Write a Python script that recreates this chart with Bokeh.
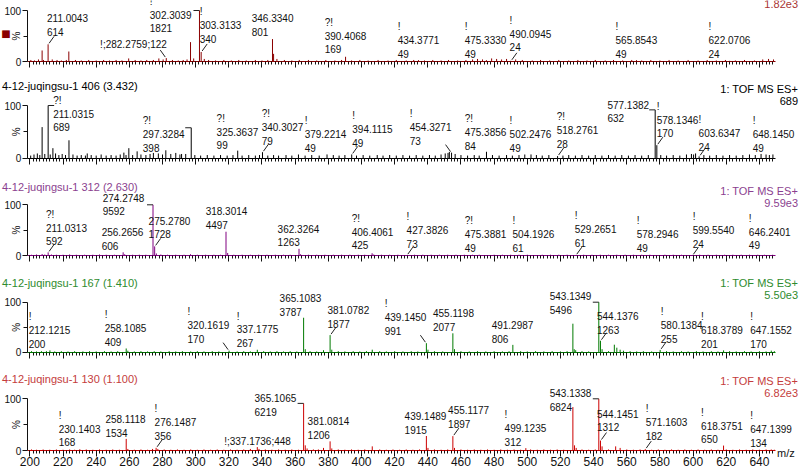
import math
from bokeh.plotting import figure
from bokeh.layouts import column
from bokeh.models import (Range1d, FixedTicker, SingleIntervalTicker, Label,
                          LabelSet, ColumnDataSource)
from bokeh.core.properties import value
from bokeh.embed import file_html
from bokeh.resources import INLINE

# ---------------------------------------------------------------- data
X_START, X_END = 198.4, 649.7
SCAN = "1: TOF MS ES+"
TITLES = [None, "4-12-juqingsu-1 406 (3.432)", "4-12-juqingsu-1 312 (2.630)",
          "4-12-juqingsu-1 167 (1.410)", "4-12-juqingsu-1 130 (1.100)"]
BPI_TEXT = ["1.82e3", "689", "9.59e3", "5.50e3", "6.82e3"]
BASE = [1821, 689, 9592, 5496, 6824]

# panel 1 (top, cut)
P1_MZ = [211.0043, 282.2759, 302.3039, 303.3133, 346.3340, 390.4068, 434.3771,
         475.3330, 490.0945, 565.8543, 622.0706]
P1_COUNT = [614, 122, 1821, 340, 801, 169, 49, 49, 24, 49, 24]
P1_FLAG = ["", "!;", "!", "!", "", "?!", "!", "!", "!", "!", "!"]
P1_OTHER = [(207.4, 21.6), (223.5, 19.6), (296.9, 38), (347.0, 15)]
P1_NOISE = [(200.6,3),(202.8,2),(205.2,4),(208.2,3),(213.5,4),(216.4,3),(219.0,2),(222.0,3),
            (227.5,3),(231.0,2),(235.5,3),(240.0,2),(244.5,3),(248.0,2),(252.0,3),(255.5,2),
            (259.6,6),(263.5,3),(267.0,2),(270.5,3),(274.5,3),(277.8,6),(280.4,4),(286.0,3),
            (289.5,2),(292.5,3),(294.8,4),(298.8,6),(305.2,5),(307.8,3),(312.0,2),(317.0,3),
            (321.5,2),(326.0,3),(330.5,2),(336.0,3),(340.0,2),(343.5,3),(349.0,5),(353.5,3),
            (358.0,2),(362.5,3),(368.0,3),(373.0,2),(378.5,3),(384.0,2),(388.0,3),(394.0,2),
            (399.0,3),(404.0,2),(410.0,3),(416.0,2),(421.0,3),(427.0,2),(431.5,3),(438.0,2),
            (443.0,3),(448.0,2),(452.5,3),(458.0,2),(463.0,3),(467.0,4),(470.0,5),(473.0,4),
            (478.5,6),(481.5,5),(484.5,4),(487.5,5),(493.0,4),(497.0,3),(503.0,2),(508.0,3),
            (513.5,2),(519.0,3),(525.0,2),(530.5,3),(536.0,2),(541.0,3),(547.0,2),(552.0,3),
            (557.5,2),(563.0,3),(569.0,2),(574.5,3),(580.0,2),(585.5,3),(591.0,2),(597.0,3),
            (603.0,2),(608.5,3),(614.0,2),(619.5,3),(625.5,2),(631.0,3),(637.0,2),(642.0,4),
            (645.5,5),(648.5,4)]

# panel 2 (black)
P2_MZ = [211.0315, 297.3284, 325.3637, 340.3027, 379.2214, 394.1115, 454.3271,
         475.3856, 502.2476, 518.2761, 577.1382, 578.1346, 603.6347, 648.1450]
P2_COUNT = [689, 398, 99, 79, 49, 49, 73, 84, 49, 28, 632, 170, 24, 49]
P2_FLAG = ["?!", "?!", "?!", "?!", "!", "!", "!", "?!", "!", "?!", "", "!", "!", "!"]
P2_OTHER = [(207.4, 59), (213.9, 19), (223.6, 34), (234.6, 9), (256.7, 10.6), (259.7, 19),
            (264.7, 13), (274.5, 10), (282.0, 15), (288.0, 10), (291.5, 8), (294.0, 8),
            (453.0, 12), (600.3, 7)]
P2_NOISE = [(200.5,5),(202.5,7),(204.5,9),(206.0,6),(209.0,8),(212.3,7),(215.5,9),(217.5,6),
            (219.5,8),(221.5,6),(226.0,7),(228.5,5),(231.0,6),(233.5,5),(237.0,6),(240.0,5),
            (243.0,7),(246.0,5),(249.0,6),(252.0,5),(254.5,7),(258.0,6),(262.0,6),(267.0,7),
            (270.0,6),(272.5,8),(277.5,9),(280.0,7),(285.0,8),(290.5,7),(299.5,6),(303.0,5),
            (307.0,6),(311.0,5),(315.0,6),(319.0,5),(322.5,6),(328.0,5),(332.0,6),(336.0,5),
            (338.5,6),(343.5,5),(347.0,6),(350.0,5),(354.5,6),(358.0,5),(362.0,7),(366.0,5),
            (370.0,6),(374.5,5),(383.0,6),(386.5,5),(390.0,6),(397.0,5),(401.0,6),(405.0,5),
            (409.5,6),(413.0,5),(417.0,6),(421.0,5),(425.0,6),(429.0,5),(433.0,6),(437.0,5),
            (441.0,6),(444.5,5),(448.0,7),(450.5,9),(452.2,10),(456.5,8),(460.0,6),(464.0,5),
            (468.0,6),(471.0,5),(479.0,6),(483.0,5),(487.5,6),(491.0,5),(495.0,6),(498.5,7),
            (505.5,6),(509.0,5),(513.0,6),(521.5,5),(525.0,6),(529.0,5),(533.0,6),(537.0,5),
            (541.0,6),(545.0,5),(549.0,6),(553.0,5),(557.0,6),(561.0,5),(565.0,6),(569.0,5),
            (573.0,6),(580.5,6),(584.0,5),(588.0,6),(592.0,5),(596.0,7),(599.0,8),(601.5,9),
            (606.5,6),(610.0,5),(614.0,6),(618.0,5),(622.0,6),(626.0,5),(630.0,6),(634.0,7),
            (637.5,6),(641.0,8),(644.0,7),(646.0,6)]

# panel 3 (purple)
P3_MZ = [211.0313, 256.2656, 274.2748, 275.2780, 318.3014, 362.3264, 406.4061,
         427.3826, 475.3881, 504.1926, 529.2651, 578.2946, 599.5540, 646.2401]
P3_COUNT = [592, 606, 9592, 1728, 4497, 1263, 425, 73, 49, 61, 61, 49, 24, 49]
P3_FLAG = ["?!", "", "", "", "", "", "?!", "!", "?!", "!", "!", "!", "!", "!"]
P3_OTHER = [(207.4, 3), (276.3, 4), (319.3, 5)]
P3_NOISE = [(201,1.5),(204,2),(209,2),(213,2),(216,1.5),(220,1.5),(224,2),(228,1.5),(233,1.5),
            (238,1.5),(242,2),(246,1.5),(251,1.5),(257.2,2.5),(262,1.5),(266,1.5),(270,1.5),
            (279,2),(283,1.5),(288,1.5),(293,1.5),(296.9,2.5),(301,1.5),(306,1.5),(311,1.5),
            (315,1.5),(323,1.5),(328,1.5),(333,1.5),(338,1.5),(343,1.5),(348,1.5),(353,1.5),
            (357,1.5),(363.3,2.5),(368,1.5),(373,1.5),(378,1.5),(383,1.5),(388,1.5),(393,1.5),
            (398,1.5),(402,1.5),(407.4,2),(412,1.5),(417,1.5),(422,1.5),(432,1.5),(437,1.5),
            (442,1.5),(447,1.5),(452,1.5),(457,1.5),(462,1.5),(467,1.5),(471,1.5),(480,1.5),
            (485,1.5),(490,1.5),(495,1.5),(500,1.5),(509,1.5),(514,1.5),(519,1.5),(524,1.5),
            (534,1.5),(539,1.5),(544,1.5),(549,1.5),(554,1.5),(559,1.5),(564,1.5),(569,1.5),
            (574,1.5),(583,1.5),(588,1.5),(593,1.5),(604,1.5),(609,1.5),(614,1.5),(619,1.5),
            (624,1.5),(629,1.5),(634,1.5),(639,1.5),(643,1.5),(648,1.5)]

# panel 4 (green)
P4_MZ = [212.1215, 258.1085, 320.1619, 337.1775, 365.1083, 381.0782, 439.1450,
         455.1198, 491.2987, 543.1349, 544.1376, 580.1384, 618.3789, 647.1552]
P4_COUNT = [200, 409, 170, 267, 3787, 1877, 991, 2077, 806, 5496, 1263, 255, 201, 170]
P4_FLAG = ["!", "!", "!", "!", "", "", "!", "", "", "", "", "!", "!", "!"]
P4_OTHER = [(527.5, 57), (552.5, 15), (554.0, 9)]
P4_NOISE = [(201,2),(204,1.5),(207,2),(210,2),(215,1.5),(219,2),(223,1.5),(227,2),(232,1.5),
            (236,2),(240,1.5),(245,2),(249,1.5),(253,2),(259.1,3),(263,1.5),(267,2),(271,1.5),
            (275,2),(279,1.5),(284,2),(288,1.5),(292,2),(297,1.5),(301,2),(305,1.5),(310,2),
            (314,1.5),(325,1.5),(329,2),(333,1.5),(341,2),(345,1.5),(349,2),(353,1.5),(357,2),
            (361,1.5),(366.1,6),(369,2),(373,1.5),(377.1,4),(382.1,5),(386,2),(390,1.5),(395,2),
            (399,1.5),(403,2),(406.5,5),(411,2),(415,1.5),(420,2),(425,1.5),(430,2),(434,1.5),
            (440.1,5),(444,2),(449,1.5),(456.1,6),(460,2),(465,1.5),(470,2),(475,1.5),(480,2),
            (485,1.5),(489,2),(496,2),(500,1.5),(505,2),(510,1.5),(515,2),(520,1.5),(524,2),
            (528.3,6),(529.2,4),(533,2),(537,1.5),(545.1,6),(549,2),(556,5),(558,3),(562,2),
            (566,1.5),(570,2),(575,1.5),(584,2),(588,1.5),(593,2),(597,1.5),(602,2),(606,1.5),
            (611,2),(615,1.5),(622,2),(626,1.5),(631,2),(635,1.5),(640,2),(644,1.5),(649,2)]

# panel 5 (red)
P5_MZ = [230.1403, 258.1118, 276.1487, 337.1736, 365.1065, 381.0814, 439.1489,
         455.1177, 499.1235, 543.1338, 544.1451, 571.1603, 618.3751, 647.1399]
P5_COUNT = [168, 1534, 356, 448, 6219, 1206, 1915, 1897, 312, 6824, 1312, 182, 650, 134]
P5_FLAG = ["!", "", "!", "!;", "", "", "", "", "!", "", "", "!", "!", "!"]
P5_OTHER = [(527.5, 84)]
P5_NOISE = [(201,2),(204,1.5),(208,2),(212,1.5),(216,2),(220,1.5),(224,2),(227,1.5),(234,2),
            (238,1.5),(242,2),(246,1.5),(250,2),(254,1.5),(259.1,3),(263,1.5),(267,2),(271,1.5),
            (274,3),(277.2,3),(281,2),(285,1.5),(289,2),(293,1.5),(297,2),(301,1.5),(305,2),
            (309,1.5),(313,2),(317,1.5),(321,2),(325,1.5),(329,2),(333,3),(338.2,3),(342,2),
            (346,1.5),(350,2),(354,1.5),(358,2),(362,1.5),(366.1,10),(367.2,4),(371,2),(374,2),
            (377.1,5),(382.1,4),(386,2),(390,1.5),(394,2),(398,1.5),(402,2),(406.5,8),(411,2),
            (415,1.5),(419,2),(423,1.5),(427,2),(431,1.5),(435,2),(440.1,5),(444,2),(448,1.5),
            (452,2),(456.1,5),(460,2),(464,1.5),(468,2),(472,1.5),(476,2),(480,1.5),(484,2),
            (488,1.5),(492,2),(496,1.5),(502,2),(506,1.5),(510,2),(514,1.5),(518,2),(522,1.5),
            (528.5,10),(529.5,5),(533,2),(537,1.5),(541,2),(545.1,8),(549,2),(553.3,8),(556,5),
            (560,2),(564,1.5),(568,2),(575,1.5),(579,2),(583,1.5),(587,2),(591,1.5),(595,2),
            (599,1.5),(603,2),(607,1.5),(611,2),(615,1.5),(620,2),(624,1.5),(628,2),(632,1.5),
            (636,2),(640,1.5),(644,2),(649,1.5)]

# ---------------------------------------------------------------- layout
# label centre (m/z units), label bottom (% units), leader kind: s = slash, b = bracket
P1_LX = [222.7, 262.5, 284.9, 315.0, 346.4, 390.4, 434.4, 474.8, 501.9, 565.8, 621.9]
P1_LY = [47, 21.6, 53, 33, 47, 11.8, 3.9, 3.9, 15.7, 3.9, 3.9]
P1_LEAD = ["s", "s", "b", "s", "", "", "", "", "s", "", ""]
P2_LX = [226.4, 280.7, 325.2, 352.4, 378.3, 406.6, 441.7, 474.8, 501.9, 530.3, 560.9, 590.6, 615.9, 648.5]
P2_LY = [46.9, 8.9, 13, 22.2, 8.9, 18.4, 22.2, 12.5, 8.9, 16.5, 64, 35.5, 10.8, 8.9]
P2_LEAD = ["b", "b", "", "s", "", "s", "s", "", "", "s", "b", "s", "s", ""]
P3_LX = [222.1, 255.9, 256.5, 284.2, 318.6, 362.0, 406.7, 439.8, 474.8, 503.7, 541.2, 578.6, 612.3, 646.2]
P3_LY = [15.8, 7, 75, 29.6, 48, 14, 7.9, 11.8, 3.9, 3.9, 13.8, 3.9, 11.8, 7.9]
P3_LEAD = ["s", "", "b", "s", "", "", "", "s", "", "", "s", "", "s", ""]
P4_LX = [211.9, 257.7, 307.7, 337.3, 363.2, 392.1, 426.6, 455.5, 491.1, 526.1, 554.6, 593.1, 617.4, 647.0]
P4_LY = [5, 8.5, 15.4, 6, 69.4, 45.4, 31.4, 39, 15.4, 73.4, 33.4, 15.4, 5, 5]
P4_LEAD = ["", "", "s", "", "", "s", "s", "", "", "b", "s", "s", "", ""]
P5_LX = [230.0, 257.7, 287.8, 337.3, 348.1, 380.1, 438.6, 464.6, 498.9, 526.1, 554.6, 584.0, 617.4, 647.0]
P5_LY = [3.9, 23.2, 17.4, 7.5, 63.8, 19, 29, 40.6, 5.5, 73.5, 32.9, 17.4, 10, 3.5]
P5_LEAD = ["", "", "s", "", "b", "", "", "s", "", "b", "s", "s", "", ""]

PEAK_COLORS = ["#8B0000", "#000000", "#800080", "#007A00", "#CC0000"]
TEXT_COLORS = ["#A83232", "#000000", "#8B3F8F", "#2E8B2E", "#C43C3C"]
FIG_H = [71, 97, 97, 97, 106]
HUNDRED_AT = [10, 34, 36.3, 36.7, 36.3]   # px from figure top to the 100 % line
ZERO_AT = [61, 86.7, 87, 86.7, 88]       # px from figure top to the 0 % line
TITLE_OFF = [0, 20, 18.3, 19.7, 20.3]     # px above the 100 % line
SCAN_OFF = [7, 16.7, 14.3, 19.4, 18.3]
W = 800
BL, BR = 26.7, 25.0                      # px left of m/z start, right of m/z end
PX_PER_MZ = (W - BL - BR) / (X_END - X_START)
MZ_PX = 1.0 / PX_PER_MZ
X_LO = X_START - BL * MZ_PX
X_HI = X_END + BR * MZ_PX
FONT = "Liberation Sans"

PANELS = [
    (P1_MZ, P1_COUNT, P1_FLAG, P1_OTHER, P1_NOISE, P1_LX, P1_LY, P1_LEAD),
    (P2_MZ, P2_COUNT, P2_FLAG, P2_OTHER, P2_NOISE, P2_LX, P2_LY, P2_LEAD),
    (P3_MZ, P3_COUNT, P3_FLAG, P3_OTHER, P3_NOISE, P3_LX, P3_LY, P3_LEAD),
    (P4_MZ, P4_COUNT, P4_FLAG, P4_OTHER, P4_NOISE, P4_LX, P4_LY, P4_LEAD),
    (P5_MZ, P5_COUNT, P5_FLAG, P5_OTHER, P5_NOISE, P5_LX, P5_LY, P5_LEAD),
]


def label_text(m, c, f):
    if f == "!;":
        return f"!;{m:.4f};{c}"
    s = f"{m:.4f}\n{c}"
    return f"{f}\n{s}" if f else s


def xloc(px):
    """x position (data) of a pixel column measured from the canvas left."""
    return X_LO + px * MZ_PX


def text_label(x, y, txt, align="left", size="11px", color="#111111", font=FONT,
               angle=0.0):
    return Label(x=x, y=y, text=txt, text_align=align, text_baseline="middle",
                 text_font=font, text_font_size=size, text_color=color, angle=angle)


def make_panel(i):
    mz, counts, flags, other, noise, lxs, lys, leads = PANELS[i]
    base = BASE[i]
    pct = [c / base * 100.0 for c in counts]
    col = PEAK_COLORS[i]
    last = (i == len(PANELS) - 1)
    frame_h = ZERO_AT[i] - HUNDRED_AT[i]
    pct_px = 100.0 / frame_h
    y_lo = -(FIG_H[i] - ZERO_AT[i]) * pct_px
    y_hi = 100 + HUNDRED_AT[i] * pct_px

    p = figure(width=W, height=FIG_H[i], x_range=Range1d(X_LO, X_HI),
               y_range=Range1d(y_lo, y_hi), output_backend="svg", toolbar_location=None,
               title=None, min_border=0)
    p.xgrid.visible = False
    p.ygrid.visible = False
    p.outline_line_color = None
    p.background_fill_color = "white"
    p.border_fill_color = "white"

    # spectrum sticks
    all_mz = [m for m, _ in noise] + [m for m, _ in other] + list(mz)
    all_pc = [v for _, v in noise] + [v for _, v in other] + pct
    p.segment(x0=all_mz, y0=[0] * len(all_mz), x1=all_mz, y1=all_pc,
              line_color=col, line_width=1)

    # leaders
    x0, y0, x1, y1 = [], [], [], []
    for m, pc, lx, kind in zip(mz, pct, lxs, leads):
        d = 1 if lx >= m else -1
        if kind == "s":
            x0.append(m + d * 1 * MZ_PX); y0.append(pc + 1 * pct_px)
            x1.append(m + d * 6 * MZ_PX); y1.append(pc + 8 * pct_px)
        elif kind == "b":
            x0.append(m); y0.append(pc)
            x1.append(m + d * 6 * MZ_PX); y1.append(pc)
    if x0:
        p.segment(x0=x0, y0=y0, x1=x1, y1=y1, line_color="#222222", line_width=1)

    # peak labels
    src = ColumnDataSource(dict(x=lxs, y=lys,
                                t=[label_text(m, c, f) for m, c, f in zip(mz, counts, flags)]))
    p.add_layout(LabelSet(x="x", y="y", text="t", source=src, text_align="center",
                          text_baseline="bottom", text_font=value(FONT),
                          text_font_size="10px", text_line_height=1.25,
                          text_color="#111111"))

    # axes, fixed inside the frame so that the frame can hold every text
    ax = p.xaxis[0]
    ax.fixed_location = 0
    ax.bounds = (X_START, X_END)
    ax.ticker = SingleIntervalTicker(interval=20, num_minor_ticks=10)
    ax.major_tick_out = 6
    ax.major_tick_in = 0
    ax.minor_tick_out = 3
    ax.minor_tick_in = 0
    ax.axis_line_color = col
    ax.major_tick_line_color = "#111111"
    ax.minor_tick_line_color = "#111111"
    if last:
        ax.major_label_text_font_size = "12px"
        ax.major_label_text_font = FONT
        ax.major_label_text_color = "#111111"
        ax.major_label_standoff = 0
    else:
        ax.major_label_text_font_size = "0px"
        ax.major_label_text_color = None
        ax.major_label_standoff = 0

    ay = p.yaxis[0]
    ay.fixed_location = X_START
    ay.bounds = (0, 100)
    ay.ticker = FixedTicker(ticks=[0, 100], minor_ticks=[50])
    ay.major_tick_out = 5
    ay.major_tick_in = 0
    ay.minor_tick_out = 4
    ay.minor_tick_in = 0
    ay.axis_line_color = "#111111"
    ay.major_tick_line_color = "#111111"
    ay.minor_tick_line_color = "#111111"
    ay.major_label_text_font_size = "10px"
    ay.major_label_text_font = FONT
    ay.major_label_text_color = "#111111"
    ay.major_label_standoff = 1

    p.add_layout(text_label(X_START - 11.2 * MZ_PX, 50, "%", align="center", size="10px",
                            angle=math.pi / 2))

    # header texts
    right_x = xloc(797.5)
    if TITLES[i]:
        p.add_layout(text_label(xloc(1.5), 100 + TITLE_OFF[i] * pct_px, TITLES[i],
                                color=TEXT_COLORS[i]))
    if i == 0:
        p.add_layout(text_label(right_x, 100 + SCAN_OFF[i] * pct_px, BPI_TEXT[i],
                                align="right", color=TEXT_COLORS[i]))
        p.add_layout(text_label(xloc(5.5), 54, "\u25A0", align="center", size="10px",
                                color="#8B0000", font="DejaVu Sans"))
    else:
        p.add_layout(text_label(right_x, 100 + SCAN_OFF[i] * pct_px, SCAN,
                                align="right", color=TEXT_COLORS[i]))
        p.add_layout(text_label(right_x, 100 + (SCAN_OFF[i] - 12) * pct_px, BPI_TEXT[i],
                                align="right", color=TEXT_COLORS[i]))
    if last:
        p.add_layout(text_label(X_END + 1.5 * MZ_PX, -2 * pct_px, "m/z", size="11px"))
    return p


plots = [make_panel(i) for i in range(len(PANELS))]
layout = column(*plots, spacing=0)
open("out.html", "w").write(file_html(layout, INLINE))
